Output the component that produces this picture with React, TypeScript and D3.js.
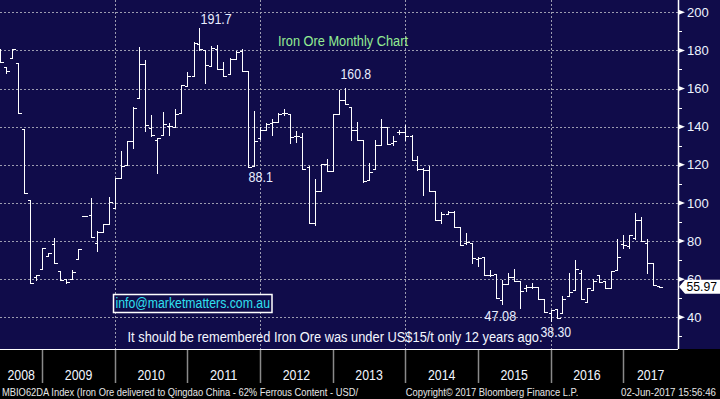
import * as d3 from 'd3';
import React, { useEffect, useRef } from 'react';

// monthly OHLC, MBIO62DA (each bar is plotted at the end of its month)
const months = [
  '2008-05', '2008-06', '2008-07', '2008-08', '2008-09', '2008-10', '2008-11', '2008-12',
  '2009-01', '2009-02', '2009-03', '2009-04', '2009-05', '2009-06', '2009-07', '2009-08', '2009-09', '2009-10', '2009-11', '2009-12',
  '2010-01', '2010-02', '2010-03', '2010-04', '2010-05', '2010-06', '2010-07', '2010-08', '2010-09', '2010-10', '2010-11', '2010-12',
  '2011-01', '2011-02', '2011-03', '2011-04', '2011-05', '2011-06', '2011-07', '2011-08', '2011-09', '2011-10', '2011-11', '2011-12',
  '2012-01', '2012-02', '2012-03', '2012-04', '2012-05', '2012-06', '2012-07', '2012-08', '2012-09', '2012-10', '2012-11', '2012-12',
  '2013-01', '2013-02', '2013-03', '2013-04', '2013-05', '2013-06', '2013-07', '2013-08', '2013-09', '2013-10', '2013-11', '2013-12',
  '2014-01', '2014-02', '2014-03', '2014-04', '2014-05', '2014-06', '2014-07', '2014-08', '2014-09', '2014-10', '2014-11', '2014-12',
  '2015-01', '2015-02', '2015-03', '2015-04', '2015-05', '2015-06', '2015-07', '2015-08', '2015-09', '2015-10', '2015-11', '2015-12',
  '2016-01', '2016-02', '2016-03', '2016-04', '2016-05', '2016-06', '2016-07', '2016-08', '2016-09', '2016-10', '2016-11', '2016-12',
  '2017-01', '2017-02', '2017-03', '2017-04', '2017-05', '2017-06',
];
const opens = [
  178, 171.2, 176, 173.3, 139, 101.6, 61.1, 65.3,
  71.9, 78.4, 64.2, 60, 60, 70.5, 93.2, 93.8, 79, 84.5, 88.9, 97.4,
  113.1, 120, 132.6, 155.3, 172.8, 139.1, 133.2, 135.8, 140.2, 139.8, 147.2, 161.4,
  166.6, 183.2, 180.2, 171.9, 181, 170.5, 167.5, 175.6, 179.8, 169.1, 119.3, 134.2,
  138.4, 142.1, 142.4, 147.4, 146.8, 134.9, 134.5, 118.7, 89.5, 106.5, 120.5, 116.6,
  146.8, 154.2, 150.3, 138, 132.8, 111.8, 117.9, 130.3, 139.8, 131.2, 137.2, 137.2,
  134.9, 122.5, 117.9, 117.5, 106.5, 91, 94.2, 95.4, 87.5, 78.8, 78.8, 70.5,
  71.4, 62.3, 62.6, 48.9, 57.4, 61.2, 59, 55.3, 56, 56, 49.5, 42.4,
  44.2, 42.4, 51.2, 54.2, 63.5, 47.9, 54.2, 62.1, 59, 55.3, 64.7, 78.4,
  77.5, 81.5, 91, 78.9, 68.4, 56.2,
];
const highs = [
  180.6, 171.2, 181, 173.5, 139, 101.6, 62.4, 76.3,
  73.7, 81.6, 64.2, 60, 64.7, 75.8, 93.4, 102.8, 85.4, 88.9, 103.1, 113.1,
  127.5, 132.3, 150.2, 181.7, 174.9, 145.9, 133.9, 147.5, 142.1, 149.1, 162.1, 168.6,
  184.2, 191.7, 180.2, 182.4, 182.8, 174, 176, 179.8, 181, 169.1, 148, 139.8,
  142.1, 144.2, 147.4, 149.1, 146.8, 137.5, 136.8, 119.3, 112.6, 120.5, 123.3, 146.8,
  159.5, 160.5, 150.3, 142.4, 132.8, 120.8, 133.2, 144.2, 139.8, 134.9, 138, 140.7,
  135.4, 124.4, 118.2, 119.6, 106.5, 95.4, 95.9, 95.9, 87.5, 84, 78.8, 71.7,
  71.4, 64.7, 62.6, 59.5, 63, 65.3, 59, 56.8, 58.2, 56, 49.5, 43.7,
  44.5, 51.2, 63.5, 70, 65, 55.4, 60.3, 62.1, 59, 64.4, 81, 83.3,
  83.3, 94.7, 92.4, 81, 68.4, 56.2,
];
const lows = [
  173.7, 168.4, 175.8, 147, 105.3, 58.2, 59.5, 65.3,
  71.9, 68.7, 59.5, 58.2, 60, 70.5, 93, 81.9, 75, 84.5, 88.9, 97.4,
  113.1, 120, 128.7, 155.3, 137.7, 135, 115.6, 135.8, 135.4, 139.8, 147.2, 161.4,
  166.6, 180.2, 163, 171.9, 170.5, 166.6, 167.5, 175.6, 169.1, 118.7, 119.3, 133.7,
  138.1, 135.6, 142.4, 146.3, 131.4, 131.9, 117.9, 89.5, 88.6, 106.5, 117, 116.6,
  146.8, 152, 133.2, 132.8, 110.8, 111.8, 117.9, 130.3, 130.7, 130.2, 135.9, 132.8,
  122.5, 117.4, 104.2, 106.1, 91, 89.3, 94.2, 87.5, 78.1, 78.4, 68.4, 67,
  62.3, 61.6, 50.3, 47.08, 57.4, 59, 44.7, 53.8, 55.6, 49.5, 43, 38.3,
  39.8, 42.4, 51.2, 54.2, 49.5, 47.9, 54.2, 58.6, 55.3, 55.3, 64.7, 76.3,
  76.6, 81, 79.8, 63, 56.8, 55.97,
];
const closes = [
  173.7, 169, 180.5, 147, 105.3, 58.2, 62.1, 76.3,
  73.7, 68.7, 59.5, 58.6, 63.8, 75.8, 93.2, 81.9, 84.9, 88.9, 100.5, 113.1,
  119.3, 132.3, 150, 172.8, 140.7, 135.4, 133.9, 141.2, 140.2, 146.5, 162.1, 166.8,
  183.7, 180.5, 172.6, 181.4, 170.5, 166.8, 175.6, 179.3, 169.1, 118.7, 132.3, 138.4,
  141.6, 142.4, 146.8, 147, 134.5, 134.9, 117.9, 89.5, 106.5, 120.5, 117, 146.8,
  154.2, 152.1, 138, 132.8, 111.7, 116.3, 130.3, 139.8, 130.7, 132.4, 137.2, 134.9,
  122.5, 117.9, 117.5, 106.1, 91, 94.2, 95.4, 87.5, 78.1, 79.3, 71, 71,
  62.3, 62.3, 50.3, 57.4, 61.2, 59, 53.8, 56, 56, 49.5, 43, 43.7,
  39.8, 49.5, 53.5, 65.3, 49.5, 55.4, 59, 58.6, 55.3, 64.4, 71.7, 78,
  83.3, 91, 79.8, 68.4, 56.8, 55.97,
];

const yTicks = [40, 60, 80, 100, 120, 140, 160, 180, 200];
const yMinorTicks = [30, 50, 70, 90, 110, 130, 150, 170, 190];
const years = [2008, 2009, 2010, 2011, 2012, 2013, 2014, 2015, 2016, 2017];
const gridYears = [2010, 2012, 2014, 2016];
const lastPrice = 55.97;

// user annotations: [text, bar month, value it sits next to]
const annotations: [string, string, number][] = [
  ['191.7', '2011-02', 191.7],
  ['160.8', '2013-02', 160.5],
  ['88.1', '2011-10', 118.7],
  ['47.08', '2015-04', 47.08],
  ['38.30', '2015-12', 38.3],
];

const NAVY = '#100c4a';
const FONT = '"Liberation Sans", Arial, sans-serif';

export default function App() {
  const ref = useRef<SVGSVGElement>(null);

  useEffect(() => {
    document.body.style.margin = '0';
    const plotR = 678, plotB = 349;
    const svg = d3.select(ref.current);
    svg.selectAll('*').remove();

    const x = d3.scaleTime()
      .domain([new Date(2009, 0, 1), new Date(2017, 0, 1)])
      .range([42.3, 623.3]);
    const y = d3.scaleLinear().domain([40, 200]).range([317.3, 12.3]);
    const parse = d3.timeParse('%Y-%m');
    const barX = (m: string) => Math.round(x(d3.timeMonth.offset(parse(m)!, 1))) + 0.5;
    const py = (v: number) => Math.round(y(v)) + 0.5;

    svg.append('rect').attr('width', 720).attr('height', 399).attr('fill', '#000');
    svg.append('rect').attr('width', 720).attr('height', plotB).attr('fill', NAVY);

    svg.append('defs').append('clipPath').attr('id', 'plotClip')
      .append('rect').attr('width', plotR).attr('height', plotB);

    // grid
    svg.append('g').selectAll('line').data(yTicks).enter().append('line')
      .attr('x1', 0).attr('x2', plotR)
      .attr('y1', d => py(d)).attr('y2', d => py(d))
      .attr('stroke', '#9c9cb0').attr('stroke-dasharray', '2,2');
    svg.append('g').selectAll('line').data(gridYears).enter().append('line')
      .attr('x1', d => Math.round(x(new Date(d, 0, 1))) + 0.5)
      .attr('x2', d => Math.round(x(new Date(d, 0, 1))) + 0.5)
      .attr('y1', 0).attr('y2', plotB)
      .attr('stroke', '#9c9cb0').attr('stroke-dasharray', '2,2');

    // bars
    const bars = svg.append('g').attr('clip-path', 'url(#plotClip)')
      .attr('stroke', '#fff').attr('stroke-width', 1).attr('shape-rendering', 'crispEdges');
    months.forEach((m, i) => {
      const bx = barX(m);
      bars.append('line').attr('x1', bx).attr('x2', bx)
        .attr('y1', Math.round(y(highs[i]))).attr('y2', Math.round(y(lows[i])) + 1);
      bars.append('line').attr('x1', bx - 2.5).attr('x2', bx)
        .attr('y1', py(opens[i])).attr('y2', py(opens[i]));
      bars.append('line').attr('x1', bx).attr('x2', bx + 3)
        .attr('y1', py(closes[i])).attr('y2', py(closes[i]));
    });

    // right axis
    svg.append('line').attr('x1', plotR + 0.5).attr('x2', plotR + 0.5)
      .attr('y1', 0).attr('y2', plotB).attr('stroke', '#fff').attr('stroke-width', 1.5);
    svg.append('g').selectAll('line').data(yMinorTicks).enter().append('line')
      .attr('x1', plotR).attr('x2', plotR + 4)
      .attr('y1', d => py(d)).attr('y2', d => py(d)).attr('stroke', '#fff');
    svg.append('g').selectAll('path').data(yTicks).enter().append('path')
      .attr('d', d => `M${plotR},${y(d) - 2.8}L${plotR + 7},${y(d)}L${plotR},${y(d) + 2.8}Z`)
      .attr('fill', '#fff');
    svg.append('g').selectAll('text').data(yTicks).enter().append('text')
      .attr('x', 687).attr('y', d => y(d) + 4.6)
      .attr('font-family', FONT).attr('font-size', 13).attr('fill', '#eef4ff')
      .text(d => d);

    // last price marker
    const ly = y(lastPrice);
    svg.append('path')
      .attr('d', `M679,${ly}L685,${ly - 7}L720,${ly - 7}L720,${ly + 7}L685,${ly + 7}Z`)
      .attr('fill', '#fff');
    svg.append('text').attr('x', 686.5).attr('y', ly + 4.6)
      .attr('font-family', FONT).attr('font-size', 13).attr('fill', '#000')
      .attr('textLength', 30.5).attr('lengthAdjust', 'spacingAndGlyphs')
      .text(lastPrice.toFixed(2));

    // time band
    svg.append('line').attr('x1', 0).attr('x2', plotR).attr('y1', plotB + 0.5).attr('y2', plotB + 0.5)
      .attr('stroke', '#fff').attr('stroke-width', 1.2);
    svg.append('g').selectAll('line').data(years.slice(1)).enter().append('line')
      .attr('x1', d => Math.round(x(new Date(d, 0, 1))) + 0.5)
      .attr('x2', d => Math.round(x(new Date(d, 0, 1))) + 0.5)
      .attr('y1', plotB + 1).attr('y2', 383)
      .attr('stroke', '#8a8a8a').attr('stroke-width', 1.5);
    svg.append('g').selectAll('text').data(years).enter().append('text')
      .attr('x', d => {
        const a = Math.max(0, x(new Date(d, 0, 1)));
        const b = Math.min(plotR, x(new Date(d + 1, 0, 1)));
        return (a + b) / 2;
      })
      .attr('y', 380).attr('text-anchor', 'middle')
      .attr('font-family', FONT).attr('font-size', 14).attr('fill', '#f2f6ff')
      .attr('textLength', 27.5).attr('lengthAdjust', 'spacingAndGlyphs')
      .text(d => d);

    // texts on the plot
    svg.append('text').attr('x', 278).attr('y', 45.5)
      .attr('font-family', FONT).attr('font-size', 14).attr('fill', '#93ec93')
      .attr('textLength', 130).attr('lengthAdjust', 'spacingAndGlyphs')
      .text('Iron Ore Monthly Chart');

    const offsets: Record<string, [number, number]> = {
      '191.7': [1, -4], '160.8': [-5, -8.3], '88.1': [0, 14.4], '47.08': [-18, 16.9], '38.30': [-11, 16.8],
    };
    const widths: Record<string, number> = { '191.7': 31.3, '160.8': 30.7, '88.1': 24.4, '47.08': 31.7, '38.30': 30.7 };
    annotations.forEach(([t, m, v]) => {
      svg.append('text')
        .attr('x', barX(m) + offsets[t][0]).attr('y', y(v) + offsets[t][1])
        .attr('font-family', FONT).attr('font-size', 14).attr('fill', '#e8eeff')
        .attr('textLength', widths[t]).attr('lengthAdjust', 'spacingAndGlyphs')
        .text(t);
    });

    svg.append('rect').attr('x', 113.5).attr('y', 294.5).attr('width', 158.5).attr('height', 18)
      .attr('fill', NAVY).attr('stroke', '#fff').attr('stroke-width', 1.5);
    svg.append('text').attr('x', 115.5).attr('y', 307.8)
      .attr('font-family', FONT).attr('font-size', 14).attr('fill', '#2fe0f0')
      .attr('textLength', 154.5).attr('lengthAdjust', 'spacingAndGlyphs')
      .text('info@marketmatters.com.au');

    svg.append('text').attr('x', 127.5).attr('y', 341.8)
      .attr('font-family', FONT).attr('font-size', 14).attr('fill', '#f4f7ff')
      .attr('textLength', 415).attr('lengthAdjust', 'spacingAndGlyphs')
      .text('It should be remembered Iron Ore was under US$15/t only 12 years ago.');

    // footer
    const footer: [string, number, number][] = [
      ['MBIO62DA Index (Iron Ore delivered to Qingdao China - 62% Ferrous Content - USD/', 2, 356],
      ['Copyright\u00a9 2017 Bloomberg Finance L.P.', 405.7, 172.6],
      ['02-Jun-2017 15:56:46', 621, 95],
    ];
    footer.forEach(([t, fx, w]) => {
      svg.append('text').attr('x', fx).attr('y', 395.5)
        .attr('font-family', FONT).attr('font-size', 10.5).attr('fill', '#e6e6e6')
        .attr('textLength', w).attr('lengthAdjust', 'spacingAndGlyphs')
        .text(t);
    });
  }, []);

  return <svg ref={ref} width={720} height={399} style={{ display: 'block' }} />;
}
